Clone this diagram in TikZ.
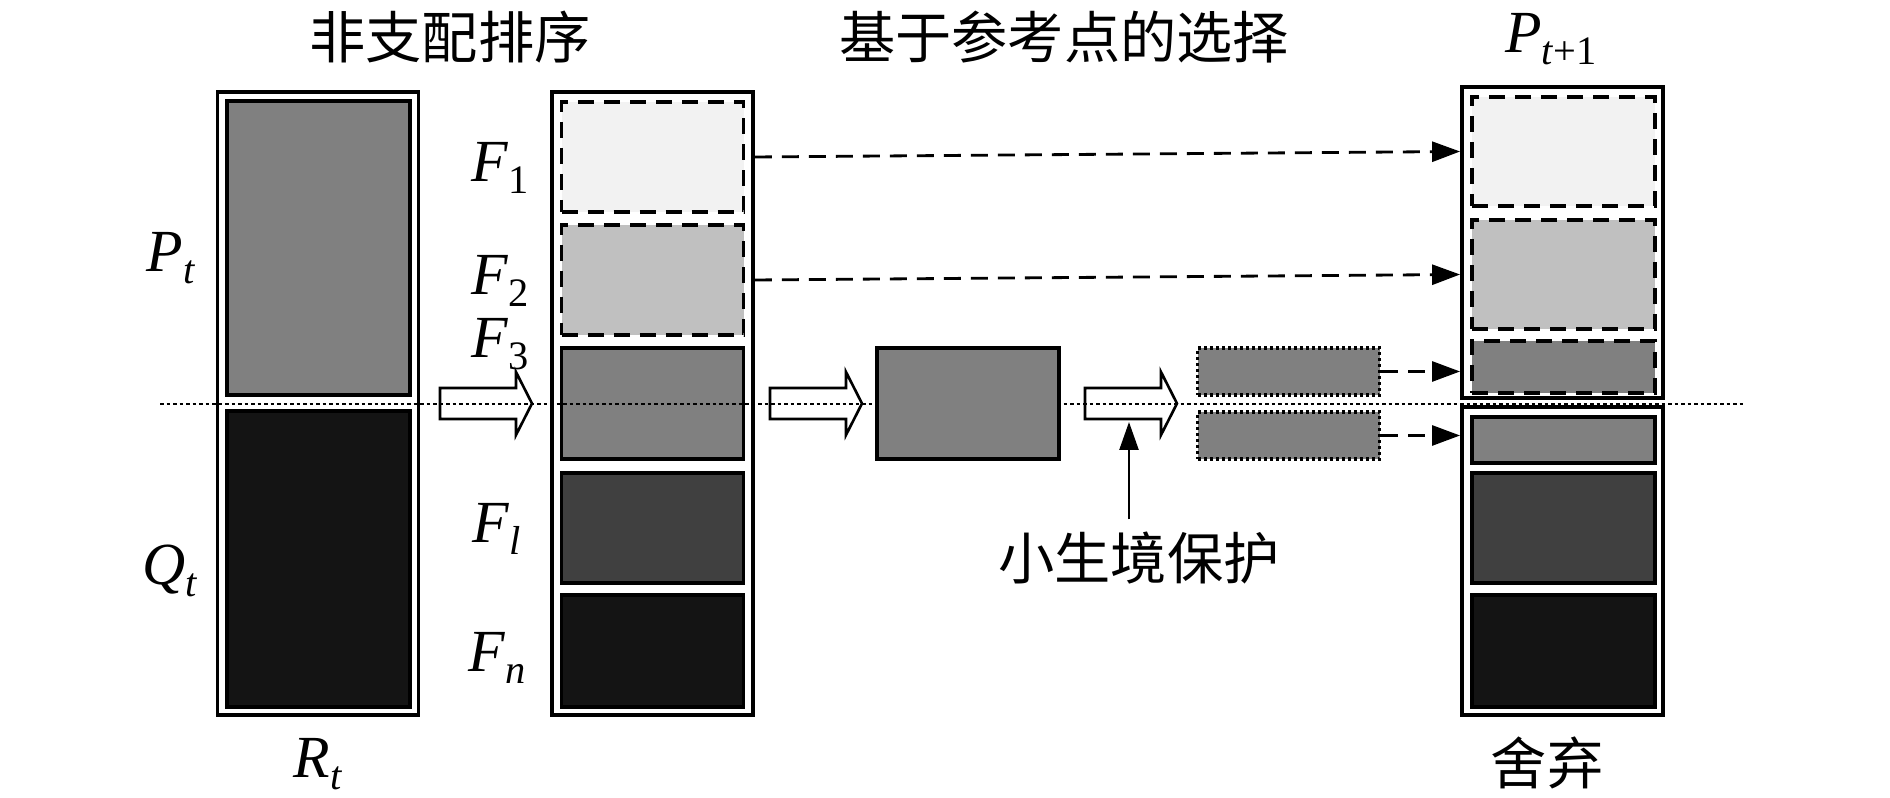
\documentclass[tikz,border=0pt]{standalone}
\usepackage{fontspec}
\setmainfont{Liberation Serif}
\newfontfamily\cjk{Noto Sans CJK SC}
\usetikzlibrary{arrows.meta}
\definecolor{pale}{HTML}{F2F2F2}
\definecolor{light}{HTML}{C0C0C0}
\definecolor{mid}{HTML}{808080}
\definecolor{dark}{HTML}{404040}
\definecolor{deep}{HTML}{141414}
\newcommand{\lab}[2]{\textit{#1}\raisebox{-3.2pt}{\fontsize{11.5}{11.5}\selectfont #2}}
\newcommand{\blockarrow}[1]{%
  \draw[line width=0.75pt,fill=white] #1 ++(0,0.155) -- ++(0.76,0) -- ++(0,0.16)
    -- ++(0.16,-0.315) -- ++(-0.16,-0.315) -- ++(0,0.16) -- ++(-0.76,0) -- cycle;}

\begin{document}
\begin{tikzpicture}[x=1cm,y=1cm,font=\fontsize{17}{20}\selectfont,
  frame/.style={draw,line width=1.1pt,inner sep=0pt,minimum width=2.01cm},
  layer/.style={draw,line width=0.95pt,inner sep=0pt,minimum width=1.82cm},
  dashlayer/.style={layer,line width=1.1pt,dash pattern=on 1.6mm off 1mm},
  dotlayer/.style={layer,line width=1pt,dash pattern=on 0.3mm off 0.3mm},
  flow/.style={line width=0.8pt,dash pattern=on 1.7mm off 1mm,
    -{Triangle[length=2.8mm,width=2mm]}},
  splitline/.style={line width=0.6pt,dash pattern=on 0.35mm off 0.3mm},
  cjklabel/.style={font=\cjk\fontsize{16}{19}\selectfont}]
  \useasboundingbox (0,0) rectangle (18.9,-7.98);

  % titles
  \node[cjklabel] (tsort) at (4.50,-0.37) {非支配排序};
  \node[cjklabel] (tsel) at (10.64,-0.37) {基于参考点的选择};
  \node[anchor=base] (tnext) at (15.51,-0.53) {\lab{P}{\textit{t}+1}};

  % R_t = P_t + Q_t
  \node[frame,minimum height=6.23cm] (rt) at (3.18,-4.035) {};
  \node[layer,fill=mid,minimum width=1.83cm,minimum height=2.94cm] (pt) at (3.185,-2.48) {};
  \node[layer,fill=deep,minimum width=1.83cm,minimum height=2.96cm] (qt) at (3.185,-5.59) {};
  \node[anchor=base] (lpt) at (1.71,-2.72) {\lab{P}{\textit{t}}};
  \node[anchor=base] (lqt) at (1.70,-5.85) {\lab{Q}{\textit{t}}};
  \node[anchor=base] (lrt) at (3.18,-7.78) {\lab{R}{\textit{t}}};

  % fronts
  \node[frame,minimum height=6.23cm] (fronts) at (6.525,-4.035) {};
  \node[dashlayer,fill=pale,minimum height=1.10cm] (f1) at (6.525,-1.57) {};
  \node[dashlayer,fill=light,minimum height=1.10cm] (f2) at (6.525,-2.80) {};
  \node[layer,fill=mid,minimum height=1.11cm] (f3) at (6.525,-4.035) {};
  \node[layer,fill=dark,minimum height=1.10cm] (fl) at (6.525,-5.28) {};
  \node[layer,fill=deep,minimum height=1.12cm] (fn) at (6.525,-6.51) {};
  \node[anchor=base] (lf1) at (5.00,-1.82) {\lab{F}{1}};
  \node[anchor=base] (lf2) at (5.00,-2.95) {\lab{F}{2}};
  \node[anchor=base] (lf3) at (5.00,-3.58) {\lab{F}{3}};
  \node[anchor=base] (lfl) at (4.97,-5.43) {\lab{F}{\textit{l}}};
  \node[anchor=base] (lfn) at (4.97,-6.72) {\lab{F}{\textit{n}}};

  \blockarrow{(4.40,-4.035)}
  \blockarrow{(7.70,-4.035)}
  \blockarrow{(10.85,-4.035)}

  % niche preservation
  \node[dotlayer,fill=mid,minimum height=0.47cm] (s1) at (12.885,-3.715) {};
  \node[dotlayer,fill=mid,minimum height=0.47cm] (s2) at (12.885,-4.355) {};
  \node[cjklabel] (niche) at (11.39,-5.58) {小生境保护};
  \coordinate (protect) at (11.29,-4.22);
  \draw[line width=0.7pt,-{Triangle[length=2.8mm,width=1.9mm]}]
    (protect |- niche.north) -- (protect);

  % P_{t+1} and discarded
  \node[frame,minimum height=3.11cm] (pnext) at (15.625,-2.425) {};
  \node[frame,minimum height=3.08cm] (drop) at (15.625,-5.61) {};
  \node[dashlayer,fill=pale,minimum width=1.83cm,minimum height=1.09cm] (k1) at (15.635,-1.515) {};
  \node[dashlayer,fill=light,minimum width=1.83cm,minimum height=1.09cm] (k2) at (15.635,-2.745) {};
  \node[dashlayer,fill=mid,minimum width=1.83cm,minimum height=0.52cm] (k3) at (15.635,-3.67) {};
  \node[layer,fill=mid,minimum width=1.83cm,minimum height=0.46cm] (k4) at (15.635,-4.40) {};
  \node[layer,fill=dark,minimum width=1.83cm,minimum height=1.10cm] (kl) at (15.635,-5.28) {};
  \node[layer,fill=deep,minimum width=1.83cm,minimum height=1.12cm] (kn) at (15.635,-6.51) {};
  \node[cjklabel] (ldrop) at (15.47,-7.63) {舍弃};

  \draw[flow] (fronts.east |- f1) -- (pnext.west |- k1);
  \draw[flow] (fronts.east |- f2) -- (pnext.west |- k2);
  \draw[flow] (s1.east) -- (s1 -| pnext.west);
  \draw[flow] (s2.east) -- (s2 -| drop.west);

  % cut between P_t and Q_t
  \coordinate (cutl) at (1.60,-4.04);
  \coordinate (cutr) at (17.45,-4.04);
  \draw[splitline] (cutl) -- (cutr);

  \node[layer,fill=mid,minimum height=1.11cm] (sel) at (9.68,-4.035) {};
\end{tikzpicture}
\end{document}
